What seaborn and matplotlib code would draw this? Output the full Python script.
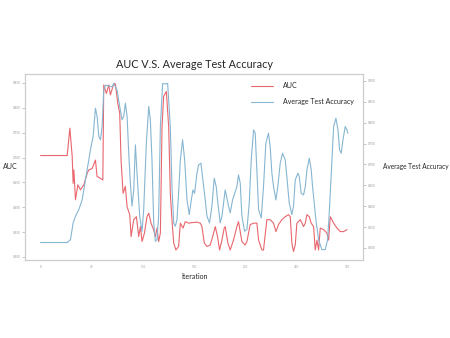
import numpy as np
import pandas as pd
import matplotlib
matplotlib.use("Agg")
import matplotlib.pyplot as plt
import seaborn as sns

sns.set_style("white")
plt.rcParams['font.family'] = ['Lato', 'DejaVu Sans']

# AUC curve
auc_iter = [0, 26, 28.6, 30.9, 31.8, 32.5, 34.1, 36.4, 39, 42.2, 45.5, 47.1, 50.4, 53.6, 55.2,
            58.5, 60.8, 61.7, 64.3, 66.6, 68.2, 71.5, 73.1, 75.4, 77.3, 78.6, 80.6, 82.8, 84.5,
            87.1, 88.4, 91, 93.6, 95.8, 97.5, 99.1, 101.4, 104, 105.6, 107.9, 110.5, 112.1,
            113.7, 115.3, 117, 118.6, 120.2, 122.8, 125.1, 126.7, 128.3, 130, 132.2, 134.8,
            136.5, 139.1, 141.3, 144.6, 147.8, 152.7, 156, 157.6, 159.9, 162.5, 165.7, 169,
            170.6, 172.8, 174.8, 177.1, 179.3,
            180.3, 182.9, 185.2, 188.4, 191.7, 193.3, 196.6, 199.8, 201.5, 204.7, 208, 211.2,
            212.9, 216.1, 217.7, 221, 224.2, 227.5, 229.8, 232.4, 235.6, 238.9, 242.1, 243.8,
            245.4, 247, 248.7, 250.3, 253.6, 256.8, 258.5, 260.1, 262.4, 264.3, 266.6, 268.2,
            269.9, 271.5, 273.1, 276.4, 279.6, 281.3, 282.9, 284.5, 286.2, 289.4, 292.7, 295.9,
            299.2]
auc_vals = [0.704, 0.704, 0.759, 0.702, 0.648, 0.675, 0.615, 0.645, 0.635, 0.645, 0.668, 0.675,
            0.678, 0.695, 0.662, 0.658, 0.655, 0.846, 0.829, 0.846, 0.826, 0.849, 0.848, 0.809,
            0.789, 0.695, 0.628, 0.642, 0.601, 0.585, 0.541, 0.575, 0.581, 0.541, 0.561, 0.531,
            0.548, 0.581, 0.588, 0.568, 0.554, 0.541, 0.558, 0.531, 0.548, 0.762, 0.823, 0.833,
            0.762, 0.628, 0.575, 0.528, 0.514, 0.521, 0.568, 0.558, 0.571, 0.568, 0.569, 0.570,
            0.568, 0.561, 0.528, 0.521, 0.524, 0.548, 0.561, 0.541, 0.514, 0.534, 0.558,
            0.561, 0.528, 0.514, 0.534, 0.561, 0.571, 0.531, 0.524, 0.531, 0.565, 0.568, 0.568,
            0.534, 0.514, 0.514, 0.575, 0.575, 0.568, 0.551, 0.565, 0.575, 0.581, 0.585, 0.581,
            0.528, 0.511, 0.524, 0.568, 0.575, 0.561, 0.568, 0.585, 0.581, 0.568, 0.561, 0.514,
            0.534, 0.514, 0.558, 0.555, 0.548, 0.534, 0.581, 0.575, 0.568, 0.558, 0.551, 0.551,
            0.555]

# Average test accuracy curve
acc_iter = [0, 26, 29.2, 31.8, 34.1, 37.4, 40.6, 43.9, 47.1, 48.7, 51.3, 53.6, 55.2, 56.9, 58.5,
            60.1, 61.7, 63.4, 66.6, 69.9, 71.5, 74.7, 77.3, 79.6, 81.2, 82.8, 84.5, 86.1, 87.7,
            89.3, 91, 92.6, 94.2, 96.8, 99.1, 100.7, 103.3, 105.6, 107.2, 108.8, 110.5, 112.1,
            113.7, 115.3, 117, 119.2, 121.8, 124.1, 126.7, 128.3, 130, 131.6, 133.2, 134.8,
            136.5, 138.7, 140.7, 143, 145.2, 147.2, 148.8, 150.4, 152.7, 154.3, 156.6, 158.5,
            160.8, 162.5, 165, 167.3, 169.6, 171.5, 172.8, 175.4, 177.1, 179.3,
            180.3, 183.6, 185.2, 187.5, 190.1, 191.7, 193.3, 195, 196.6, 199.2, 201.5, 203.8,
            205.7, 208, 209.6, 211.2, 212.9, 215.5, 217.7, 220, 222.6, 224.2, 225.9, 227.5,
            229.8, 231.7, 234, 236.3, 238.9, 240.5, 242.8, 245.4, 247, 248.7, 251.3, 252.6,
            254.5, 256.8, 258.5, 260.1, 262.4, 264.3, 265.6, 267.6, 269.2, 271.5, 274.7, 278,
            280.3, 281.9, 284.5, 286.2, 288.4, 290.4, 292, 293.6, 295.3, 297.5, 299.2, 300]
acc_vals = [0.513, 0.513, 0.520, 0.560, 0.576, 0.592, 0.615, 0.663, 0.711, 0.735, 0.767, 0.835,
            0.815, 0.767, 0.759, 0.791, 0.878, 0.890, 0.888, 0.886, 0.894, 0.878, 0.839, 0.807,
            0.815, 0.847, 0.815, 0.727, 0.655, 0.600, 0.639, 0.747, 0.679, 0.576, 0.540, 0.592,
            0.751, 0.839, 0.807, 0.711, 0.560, 0.516, 0.520, 0.576, 0.791, 0.894, 0.893, 0.894,
            0.791, 0.647, 0.560, 0.552, 0.568, 0.631, 0.711, 0.759, 0.711, 0.615, 0.580, 0.615,
            0.639, 0.631, 0.679, 0.699, 0.703, 0.663, 0.615, 0.576, 0.560, 0.600, 0.667, 0.647,
            0.615, 0.560, 0.576, 0.619,
            0.639, 0.600, 0.584, 0.615, 0.635, 0.647, 0.675, 0.655, 0.576, 0.540, 0.544, 0.608,
            0.711, 0.783, 0.775, 0.687, 0.592, 0.572, 0.647, 0.751, 0.775, 0.743, 0.679, 0.647,
            0.615, 0.647, 0.703, 0.727, 0.711, 0.671, 0.608, 0.580, 0.600, 0.663, 0.679, 0.671,
            0.631, 0.627, 0.647, 0.687, 0.715, 0.687, 0.647, 0.600, 0.560, 0.520, 0.496, 0.496,
            0.520, 0.584, 0.711, 0.791, 0.811, 0.783, 0.735, 0.727, 0.759, 0.791, 0.783, 0.775]

x_ticks = [0, 50, 100, 150, 200, 250, 300]
auc_ticks = [0.50, 0.55, 0.60, 0.65, 0.70, 0.75, 0.80, 0.85]
acc_ticks = [0.50, 0.55, 0.60, 0.65, 0.70, 0.75, 0.80, 0.85, 0.90]

red = '#e8666e'
blue = '#86b6d2'

fig = plt.figure(figsize=(4.5, 3.38), dpi=100)
ax = fig.add_axes([0.056, 0.231, 0.751, 0.550])
ax2 = ax.twinx()

sns.lineplot(x=auc_iter, y=auc_vals, ax=ax, color=red, linewidth=0.8, label='AUC', legend=False)
sns.lineplot(x=acc_iter, y=acc_vals, ax=ax2, color=blue, linewidth=0.8,
             label='Average Test Accuracy', legend=False)

ax.set_xlim(-15, 315)
ax.set_ylim(0.494, 0.868)
ax2.set_ylim(0.4713, 0.9167)
ax.set_xticks(x_ticks)
ax.set_yticks(auc_ticks)
ax2.set_yticks(acc_ticks)
ax.set_yticklabels([f"{v:.3f}" for v in auc_ticks])
ax2.set_yticklabels([f"{v:.3f}" for v in acc_ticks])

for a in (ax, ax2):
    a.tick_params(axis='both', labelsize=2.2, length=2, width=0.4, colors='#999999', pad=1.5)
    for s in a.spines.values():
        s.set_color('#cccccc')
        s.set_linewidth(0.8)

ax.set_title('AUC V.S. Average Test Accuracy', fontsize=7.8, pad=4)
ax.set_xlabel('Iteration', fontsize=5, labelpad=3)
ax.set_ylabel('AUC', fontsize=5, rotation=0, va='center', ha='center')
ax.yaxis.set_label_coords(-0.045, 0.5)
ax2.set_ylabel('Average Test Accuracy', fontsize=4.7, rotation=0, va='center', ha='left')
ax2.yaxis.set_label_coords(1.058, 0.5)

h1, l1 = ax.get_legend_handles_labels()
h2, l2 = ax2.get_legend_handles_labels()
ax2.legend(h1 + h2, l1 + l2, loc='upper right', frameon=False, fontsize=5,
           handlelength=3.2, handletextpad=1.4, labelspacing=1.3,
           bbox_to_anchor=(0.99, 0.99))

fig.savefig('out.png', dpi=100)
